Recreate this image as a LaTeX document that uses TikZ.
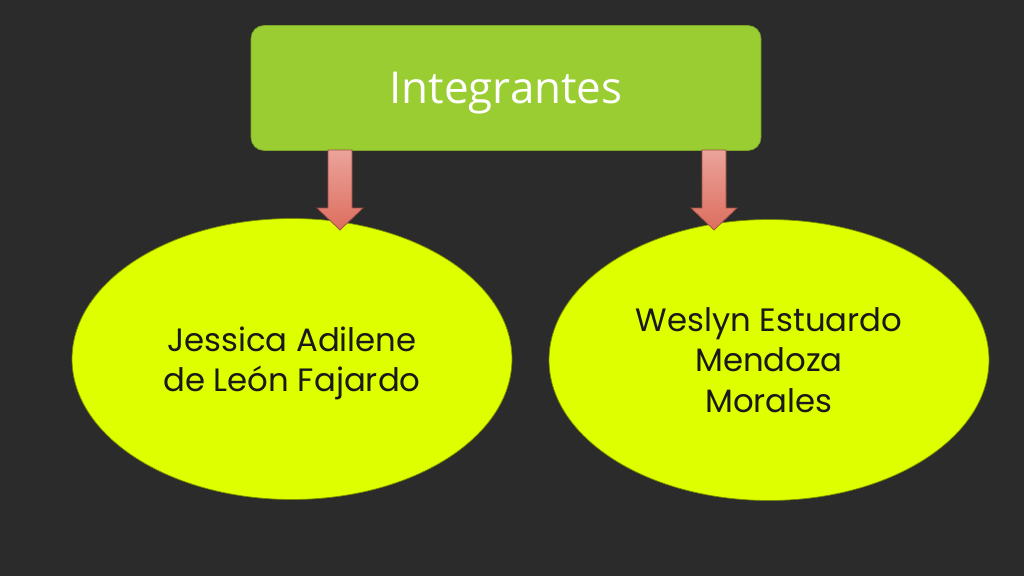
\documentclass[tikz,border=0pt]{standalone}
\usepackage{fontspec}
\usepackage{tikz}
\usepackage{xcolor}
\usetikzlibrary{positioning, calc, shapes.geometric}
\newfontfamily\titlefont{Open Sans}
\newfontfamily\namefont{Poppins}
\definecolor{fondo}{HTML}{2B2B2B}
\definecolor{verde}{HTML}{9ACD32}
\definecolor{lima}{HTML}{DDFF00}
\definecolor{salmonclaro}{HTML}{EBA39A}
\definecolor{salmon}{HTML}{DC6E5E}
\tikzset{
    titlebox/.style={rectangle,rounded corners=0.26cm,draw=verde!80!black,fill=verde,minimum width=10.2cm,minimum height=2.5cm,text=white,text depth=0pt,font=\titlefont\fontsize{25}{30}\selectfont},
    namebubble/.style={ellipse,draw=lima!55!black,fill=lima,minimum width=8.8cm,minimum height=5.62cm,align=center,text=black!90,text depth=0pt,font=\namefont\fontsize{18.4}{23}\selectfont},
    arrowfill/.style={top color=salmonclaro,bottom color=salmon,draw=salmon!70!black,thin}
}
\begin{document}
\begin{tikzpicture}[x=0.02cm,y=-0.02cm]
    \useasboundingbox (0,0) rectangle (1024,576);
    \fill[fondo] (0,0) rectangle (1024,576);
    \node[titlebox] (top) at (506,88) {Integrantes};
    \node[namebubble] (jessica) at (292,359) {Jessica Adilene\\de León Fajardo};
    \node[namebubble] (weslyn) at (769,360) {Weslyn Estuardo\\Mendoza\\Morales};
    \coordinate (ja) at (340,150);
    \coordinate (jb) at (340,230);
    \coordinate (wa) at (714,150);
    \coordinate (wb) at (714,230);
    \foreach \s/\e in {ja/jb,wa/wb}
        \shade[arrowfill] ($(\s)+(-12,0)$) -- ($(\s)+(12,0)$) -- ($(\e)+(12,-22)$) -- ($(\e)+(23,-22)$) -- (\e) -- ($(\e)+(-23,-22)$) -- ($(\e)+(-12,-22)$) -- cycle;
\end{tikzpicture}
\end{document}
